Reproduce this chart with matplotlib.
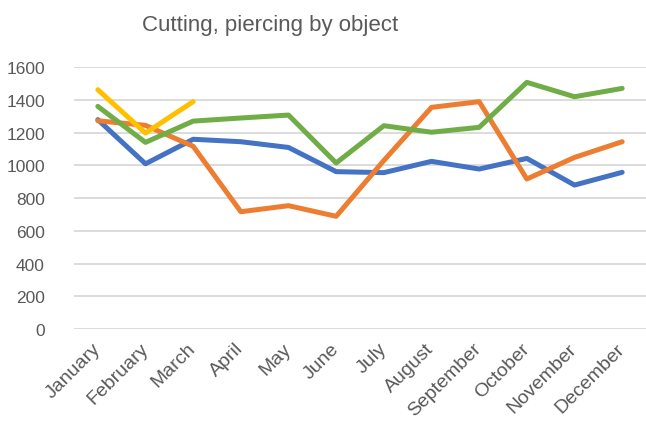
import matplotlib
matplotlib.use("Agg")
import matplotlib.pyplot as plt

months = ["January", "February", "March", "April", "May", "June", "July",
          "August", "September", "October", "November", "December"]
blue = [1280, 1010, 1160, 1145, 1110, 962, 956, 1025, 978, 1043, 880, 958]
orange = [1273, 1245, 1117, 717, 754, 689, 1030, 1355, 1390, 917, 1049, 1145]
green = [1361, 1141, 1271, 1290, 1308, 1015, 1243, 1203, 1233, 1508, 1420, 1471]
yellow = [1463, 1198, 1390]
yticks = [0, 200, 400, 600, 800, 1000, 1200, 1400, 1600]

plt.rcParams['font.family'] = ['Liberation Sans', 'DejaVu Sans']
fig = plt.figure(figsize=(6.46, 4.27), dpi=100)
ax = fig.add_axes([74/646, 97/427, (646-74)/646, (330-68.3)/427])

x = list(range(len(months)))
kw = dict(linewidth=3.6, solid_capstyle='round', solid_joinstyle='round')
ax.plot(x, blue, color='#4472C4', **kw)
ax.plot(x, orange, color='#ED7D31', **kw)
ax.plot(x, green, color='#70AD47', **kw)
ax.plot(x[:len(yellow)], yellow, color='#FFC000', **kw)

ax.set_xlim(-0.5, len(months) - 0.5)
ax.set_ylim(0, 1600)
ax.set_yticks(yticks)
ax.set_yticklabels([str(v) for v in yticks])
ax.set_xticks(x)
ax.set_xticklabels(months, rotation=45, ha='right', va='center', rotation_mode='anchor')
ax.tick_params(axis='both', length=0, colors='#595959')
ax.tick_params(axis='y', pad=21, labelsize=12.5)
ax.tick_params(axis='x', pad=12, labelsize=14)
ax.grid(axis='y', color='#D9D9D9', linewidth=1.3)
ax.set_axisbelow(True)
for s in ax.spines.values():
    s.set_visible(False)

fig.suptitle("Cutting, piercing by object", x=0.418, y=0.965, va='top',
             fontsize=16, color='#595959')
fig.savefig("out.png", dpi=100)
